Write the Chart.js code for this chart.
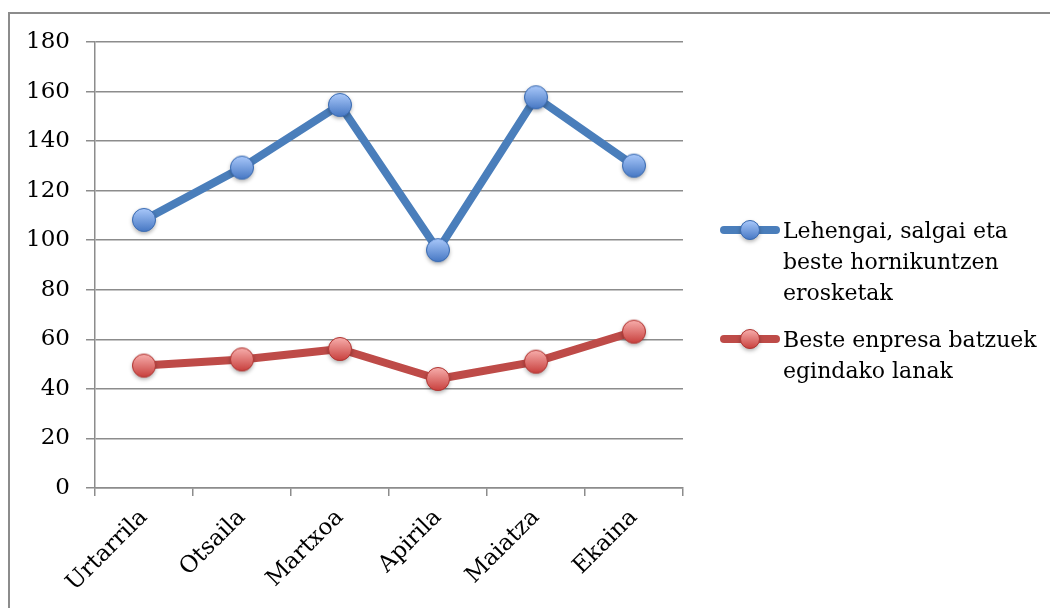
<!DOCTYPE html>
<html>
<head>
<meta charset="utf-8">
<script src="https://cdn.jsdelivr.net/npm/chart.js@4/dist/chart.umd.min.js"></script>
<style>
  html, body { margin: 0; padding: 0; background: #fff; }
  #wrap { width: 1050px; height: 608px; position: relative; }
</style>
</head>
<body>
<div id="wrap"><canvas id="c" width="1050" height="608"></canvas></div>
<script>
// Months (January – June)
const months = ['Urtarrila', 'Otsaila', 'Martxoa', 'Apirila', 'Maiatza', 'Ekaina'];

// Purchases of raw materials, goods and other supplies
const purchases = [108.2, 129.3, 154.6, 96.0, 157.7, 130.1];
const purchasesLines = ['Lehengai, salgai eta', 'beste hornikuntzen', 'erosketak'];

// Work done by other companies
const subcontracted = [49.4, 51.9, 56.1, 44.0, 51.0, 63.1];
const subcontractedLines = ['Beste enpresa batzuek', 'egindako lanak'];

// Y axis
const yMin = 0, yMax = 180, yStep = 20;

const FONT = '"DejaVu Serif", "Liberation Serif", serif';
const AXIS_FONT_SIZE = 23;
const LEGEND_FONT_SIZE = 22;
const BLUE = '#4a7ebb';
const RED = '#be4b48';

// Glossy marker with a soft drop shadow, used as pointStyle
function makeMarker(top, bottom, edge, r) {
  const s = 36, c = document.createElement('canvas');
  c.width = s; c.height = s;
  const g = c.getContext('2d');
  const cx = s / 2, cy = s / 2;
  g.save();
  g.shadowColor = 'rgba(0,0,0,0.35)';
  g.shadowBlur = 4;
  g.shadowOffsetY = 2;
  g.beginPath(); g.arc(cx, cy, r, 0, Math.PI * 2);
  g.fillStyle = bottom; g.fill();
  g.restore();
  const grad = g.createLinearGradient(0, cy - r, 0, cy + r);
  grad.addColorStop(0, top);
  grad.addColorStop(1, bottom);
  g.beginPath(); g.arc(cx, cy, r, 0, Math.PI * 2);
  g.fillStyle = grad; g.fill();
  g.lineWidth = 1; g.strokeStyle = edge; g.stroke();
  return c;
}
const blueMarker = makeMarker('#a9c8fa', '#4778c4', '#3b6bb0', 11.5);
const redMarker = makeMarker('#f7aeac', '#c8403d', '#b03835', 11.5);
const blueKey = makeMarker('#a9c8fa', '#4778c4', '#3b6bb0', 9.5);
const redKey = makeMarker('#f7aeac', '#c8403d', '#b03835', 9.5);

// Outer frame of the chart object
const framePlugin = {
  id: 'frame',
  beforeDraw(chart) {
    const ctx = chart.ctx;
    ctx.save();
    ctx.fillStyle = '#fff';
    ctx.fillRect(0, 0, chart.width, chart.height);
    ctx.strokeStyle = '#8c8c8c';
    ctx.lineWidth = 2;
    ctx.strokeRect(9, 13, 1200, 800);
    ctx.restore();
  }
};

// Legend on the right, with wrapped labels
const sideLegend = {
  id: 'sideLegend',
  afterDraw(chart) {
    const ctx = chart.ctx;
    const items = [
      { color: BLUE, marker: blueKey, lines: purchasesLines, y: 230 },
      { color: RED, marker: redKey, lines: subcontractedLines, y: 339 }
    ];
    ctx.save();
    items.forEach(it => {
      ctx.strokeStyle = it.color;
      ctx.lineWidth = 8;
      ctx.lineCap = 'round';
      ctx.beginPath();
      ctx.moveTo(724, it.y); ctx.lineTo(776, it.y);
      ctx.stroke();
      ctx.drawImage(it.marker, 750 - it.marker.width / 2, it.y - it.marker.height / 2);
      ctx.fillStyle = '#000';
      ctx.font = LEGEND_FONT_SIZE + 'px ' + FONT;
      ctx.textAlign = 'left';
      ctx.textBaseline = 'middle';
      it.lines.forEach((t, i) => ctx.fillText(t, 783, it.y + 2 + i * 31));
    });
    ctx.restore();
  }
};

new Chart(document.getElementById('c'), {
  type: 'line',
  data: {
    labels: months,
    datasets: [
      {
        label: purchasesLines.join(' '),
        data: purchases,
        borderColor: BLUE,
        borderWidth: 8,
        pointStyle: blueMarker,
        pointRadius: 12,
        borderCapStyle: 'round',
        borderJoinStyle: 'round'
      },
      {
        label: subcontractedLines.join(' '),
        data: subcontracted,
        borderColor: RED,
        borderWidth: 8,
        pointStyle: redMarker,
        pointRadius: 12,
        borderCapStyle: 'round',
        borderJoinStyle: 'round'
      }
    ]
  },
  options: {
    responsive: false,
    animation: false,
    layout: { padding: { left: 0, top: 42, right: 367, bottom: 0 } },
    plugins: { legend: { display: false }, tooltip: { enabled: false } },
    scales: {
      x: {
        offset: true,
        grid: {
          offset: true,
          drawOnChartArea: false,
          drawTicks: true,
          tickLength: 8,
          color: '#8c8c8c',
          lineWidth: 1.5
        },
        border: { color: '#8c8c8c', width: 1.5 },
        ticks: {
          color: '#000',
          font: { family: FONT, size: AXIS_FONT_SIZE },
          maxRotation: 45,
          minRotation: 45,
          padding: 8
        },
        afterFit(scale) { scale.height = 120; }
      },
      y: {
        min: yMin,
        max: yMax,
        grid: { color: '#8c8c8c', lineWidth: 1.5, tickLength: 9 },
        border: { color: '#8c8c8c', width: 1.5 },
        ticks: {
          stepSize: yStep,
          color: '#000',
          font: { family: FONT, size: AXIS_FONT_SIZE },
          padding: 16
        },
        afterFit(scale) { scale.width = 95; }
      }
    }
  },
  plugins: [framePlugin, sideLegend]
});
</script>
</body>
</html>
